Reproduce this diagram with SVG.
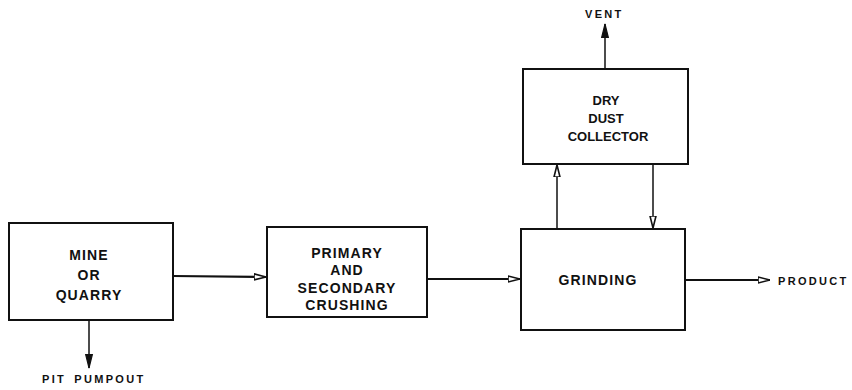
<svg xmlns="http://www.w3.org/2000/svg" width="852" height="390" viewBox="0 0 852 390">
<style>
.box{fill:#fff;stroke:#111;stroke-width:2}
.t{font-family:"Liberation Sans",Arial,sans-serif;font-size:14px;font-weight:bold;letter-spacing:1.1px;fill:#111;text-anchor:middle}
.c{font-family:"Liberation Sans",Arial,sans-serif;font-size:13px;font-weight:bold;fill:#111;text-anchor:middle}
.s{font-family:"Liberation Sans",Arial,sans-serif;font-size:11px;font-weight:bold;letter-spacing:2.3px;fill:#111}
.ln{stroke:#111;fill:none}
</style>
<defs>
<marker id="open" viewBox="0 0 12 8" refX="12" refY="4" markerWidth="12" markerHeight="8" markerUnits="userSpaceOnUse" orient="auto">
<path d="M0,1 L12,4 L0,7 Z" fill="#fff" stroke="#111" stroke-width="1.6"/>
</marker>
<marker id="fill" viewBox="0 0 12 8" refX="12" refY="4" markerWidth="16" markerHeight="9" markerUnits="userSpaceOnUse" orient="auto">
<path d="M0,1 L12,4 L0,7 Z" fill="#111" stroke="#111" stroke-width="1"/>
</marker>
</defs>
<rect width="852" height="390" fill="#fff"/>
<g id="connectors">
<line class="ln" stroke-width="2.2" x1="173" y1="276" x2="266" y2="277" marker-end="url(#open)"/>
<line class="ln" stroke-width="2.2" x1="427" y1="279" x2="520" y2="279" marker-end="url(#open)"/>
<line class="ln" stroke-width="2.2" x1="685" y1="280" x2="770" y2="280" marker-end="url(#open)"/>
<line class="ln" stroke-width="1.5" x1="89" y1="320" x2="89" y2="368" marker-end="url(#fill)"/>
<line class="ln" stroke-width="1.5" x1="605" y1="69" x2="605" y2="24" marker-end="url(#fill)"/>
<line class="ln" stroke-width="1.5" x1="557" y1="229" x2="557" y2="165" marker-end="url(#open)"/>
<line class="ln" stroke-width="1.5" x1="653" y1="164" x2="653" y2="228" marker-end="url(#open)"/>
</g>
<g id="mine">
<rect class="box" x="9" y="223" width="164" height="97"/>
<text class="t" x="89" y="260">MINE</text>
<text class="t" x="89" y="280">OR</text>
<text class="t" x="89" y="300">QUARRY</text>
</g>
<g id="crushing">
<rect class="box" x="267" y="227" width="160" height="90"/>
<text class="t" x="347" y="258">PRIMARY</text>
<text class="t" x="347" y="275">AND</text>
<text class="t" x="347" y="293">SECONDARY</text>
<text class="t" x="347" y="310">CRUSHING</text>
</g>
<g id="grinding">
<rect class="box" x="521" y="229" width="164" height="101"/>
<text class="t" x="598" y="285">GRINDING</text>
</g>
<g id="collector">
<rect class="box" x="523" y="69" width="165" height="95"/>
<text class="c" x="606" y="105">DRY</text>
<text class="c" x="606" y="123">DUST</text>
<text class="c" x="608" y="141">COLLECTOR</text>
</g>
<g id="labels">
<text class="s" x="585" y="18">VENT</text>
<text class="s" x="778" y="285">PRODUCT</text>
<text class="s" x="42" y="383" word-spacing="3">PIT PUMPOUT</text>
</g>
</svg>
